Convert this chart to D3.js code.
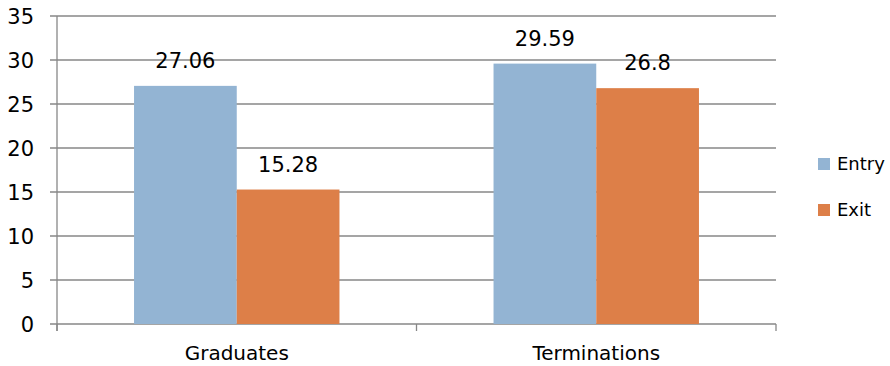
<!DOCTYPE html>
<html>
<head>
<meta charset="utf-8">
<script src="https://cdn.jsdelivr.net/npm/d3@7"></script>
<style>
  body { margin: 0; background: #fff; }
  svg text { font-family: "DejaVu Sans", sans-serif; fill: #000; }
</style>
</head>
<body>
<div id="chart"></div>
<script>
const categories = ["Graduates", "Terminations"];
const seriesNames = ["Entry", "Exit"];
const entryValues = [27.06, 29.59];
const exitValues = [15.28, 26.8];
const yTicks = [0, 5, 10, 15, 20, 25, 30, 35];
const colors = ["#93b4d3", "#dd7f48"];

const width = 890, height = 366;
const plotLeft = 57, plotRight = 776, plotTop = 16, plotBottom = 324;

const svg = d3.select("#chart").append("svg")
    .attr("width", width)
    .attr("height", height);

const x = d3.scaleBand().domain(categories).range([plotLeft, plotRight]);
const y = d3.scaleLinear().domain([0, 35]).range([plotBottom, plotTop]);
const barW = x.bandwidth() / 3.5;

// gridlines
svg.append("g").selectAll("line")
    .data(yTicks)
    .enter().append("line")
    .attr("x1", plotLeft - 7).attr("x2", plotRight)
    .attr("y1", d => y(d)).attr("y2", d => y(d))
    .attr("stroke", "#878787").attr("stroke-width", 1.3);

// y labels
svg.append("g").selectAll("text")
    .data(yTicks)
    .enter().append("text")
    .attr("x", 34).attr("y", d => y(d))
    .attr("dy", "0.36em")
    .attr("text-anchor", "end")
    .style("font-size", "21px")
    .text(d => d);

// axes lines
svg.append("line")
    .attr("x1", plotLeft).attr("x2", plotLeft)
    .attr("y1", plotTop).attr("y2", plotBottom + 7)
    .attr("stroke", "#878787").attr("stroke-width", 1.3);
svg.append("g").selectAll("line")
    .data([plotLeft, x("Terminations"), plotRight])
    .enter().append("line")
    .attr("x1", d => d).attr("x2", d => d)
    .attr("y1", plotBottom).attr("y2", plotBottom + 7)
    .attr("stroke", "#878787").attr("stroke-width", 1.3);

// bars
const series = [entryValues, exitValues];
series.forEach((vals, si) => {
    const g = svg.append("g");
    g.selectAll("rect")
        .data(categories)
        .enter().append("rect")
        .attr("x", (c) => x(c) + (x.bandwidth() - 2 * barW) / 2 + si * barW)
        .attr("y", (c, i) => y(vals[i]))
        .attr("width", barW)
        .attr("height", (c, i) => plotBottom - y(vals[i]))
        .attr("fill", colors[si]);
    g.selectAll("text")
        .data(categories)
        .enter().append("text")
        .attr("x", (c) => x(c) + (x.bandwidth() - 2 * barW) / 2 + si * barW + barW / 2)
        .attr("y", (c, i) => y(vals[i]) - 18)
        .attr("text-anchor", "middle")
        .style("font-size", "21px")
        .text((c, i) => vals[i]);
});

// category labels
svg.append("g").selectAll("text")
    .data(categories)
    .enter().append("text")
    .attr("x", c => x(c) + x.bandwidth() / 2)
    .attr("y", 360)
    .attr("text-anchor", "middle")
    .style("font-size", "20px")
    .text(c => c);

// legend
const legend = svg.append("g").selectAll("g")
    .data(seriesNames)
    .enter().append("g")
    .attr("transform", (d, i) => `translate(818, ${164 + i * 46})`);
legend.append("rect")
    .attr("x", 0).attr("y", -6)
    .attr("width", 12).attr("height", 12)
    .attr("fill", (d, i) => colors[i]);
legend.append("text")
    .attr("x", 19).attr("y", 0)
    .attr("dy", "0.36em")
    .style("font-size", "18px")
    .text(d => d);
</script>
</body>
</html>
